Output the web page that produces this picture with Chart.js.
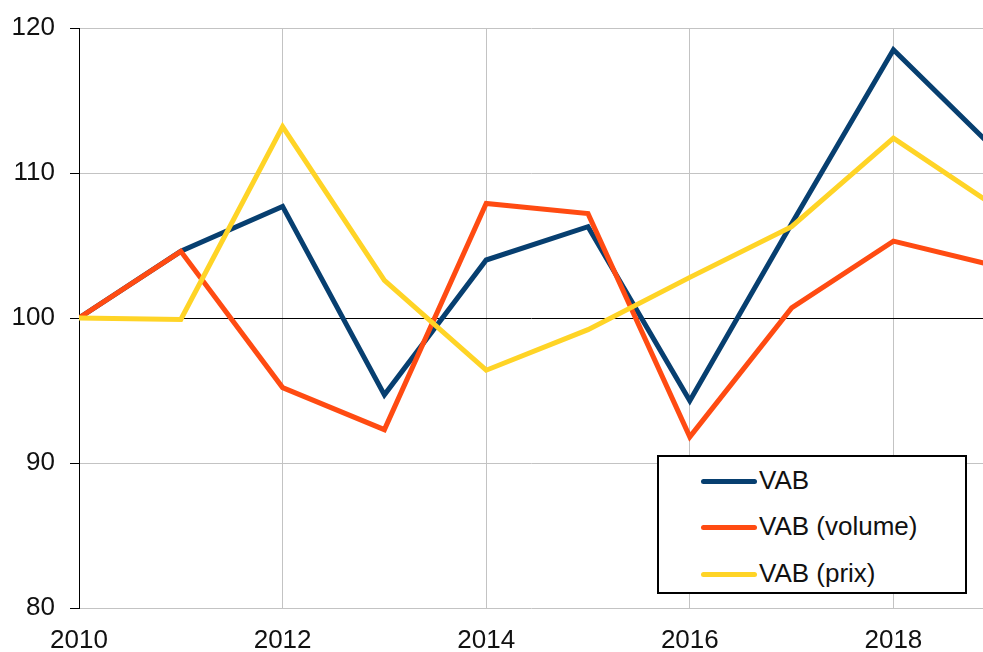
<!DOCTYPE html>
<html>
<head>
<meta charset="utf-8">
<script src="https://cdn.jsdelivr.net/npm/chart.js@4/dist/chart.umd.min.js"></script>
<style>
  html, body { margin: 0; padding: 0; background: #fff; }
  #wrap { position: relative; width: 983px; height: 652px; }
  #legend {
    position: absolute; left: 657px; top: 455px; width: 306px; height: 135px;
    border: 2px solid #000; background: #fff;
    font-family: "Liberation Sans", Arial, sans-serif; font-size: 26px; color: #111;
  }
  .item { position: absolute; left: 42px; height: 30px; line-height: 30px; white-space: nowrap; }
  .item span.swatch { display: inline-block; width: 56px; height: 5px; border-radius: 3px; vertical-align: middle; margin-right: 2px; position: relative; top: -1px; }
</style>
</head>
<body>
<div id="wrap">
  <canvas id="chart" width="983" height="652"></canvas>
  <div id="legend"></div>
</div>
<script>
// années et séries (indice base 100 en 2010)
var annees = [2010, 2011, 2012, 2013, 2014, 2015, 2016, 2017, 2018, 2019];
var vab =        [100, 104.6, 107.7, 94.7, 104.0, 106.3, 94.3, 106.5, 118.5, 111.6];
var vabVolume =  [100, 104.6, 95.2, 92.3, 107.9, 107.2, 91.8, 100.7, 105.3, 103.6];
var vabPrix =    [100, 99.9, 113.2, 102.6, 96.4, 99.2, 102.8, 106.3, 112.4, 107.7];
var anneesAffichees = [2010, 2012, 2014, 2016, 2018];
var nomsSeries = ['VAB', 'VAB (volume)', 'VAB (prix)'];
var couleurs = ['#073f70', '#ff4b12', '#ffd426'];

function points(valeurs) {
    return annees.map(function(a, i) { return { x: a, y: valeurs[i] }; });
}

var series = [vab, vabVolume, vabPrix];
var datasets = series.map(function(valeurs, i) {
    return {
        label: nomsSeries[i],
        data: points(valeurs),
        borderColor: couleurs[i],
        backgroundColor: couleurs[i],
        borderWidth: 5,
        pointRadius: 0,
        tension: 0,
        order: 3 - i // la dernière série est dessinée au-dessus
    };
});

var police = { family: '"Liberation Sans", Arial, sans-serif', size: 26, lineHeight: 1 };

new Chart(document.getElementById('chart'), {
    type: 'line',
    data: { datasets: datasets },
    options: {
        responsive: false,
        animation: false,
        layout: { padding: { top: 28, right: 0, left: 0, bottom: 0 } },
        plugins: { legend: { display: false }, tooltip: { enabled: false } },
        scales: {
            x: {
                type: 'linear',
                min: 2010,
                max: 2018.88, // le graphique est coupé avant 2019
                afterBuildTicks: function(scale) {
                    scale.ticks = anneesAffichees.map(function(a) { return { value: a }; });
                },
                afterFit: function(scale) { scale.height = 44; },
                ticks: { color: '#111', font: police, padding: 20, maxRotation: 0, autoSkip: false,
                         callback: function(v) { return String(v); } },
                grid: { color: '#c3c3c3', lineWidth: 1, drawTicks: false },
                border: { display: false }
            },
            y: {
                min: 80,
                max: 120,
                afterFit: function(scale) { scale.width = 79; },
                ticks: { stepSize: 10, color: '#111', font: police, padding: 15 },
                grid: {
                    color: function(ctx) { return ctx.tick && ctx.tick.value === 100 ? '#000' : '#c3c3c3'; },
                    lineWidth: 1,
                    tickLength: 9,
                    tickColor: '#000'
                },
                border: { display: true, color: '#000', width: 1 }
            }
        }
    }
});

// légende encadrée comme dans l'original
var legende = document.getElementById('legend');
var hauts = [8, 54, 101];
nomsSeries.forEach(function(nom, i) {
    var div = document.createElement('div');
    div.className = 'item';
    div.style.top = hauts[i] + 'px';
    div.innerHTML = '<span class="swatch" style="background:' + couleurs[i] + '"></span>' + nom;
    legende.appendChild(div);
});
</script>
</body>
</html>
